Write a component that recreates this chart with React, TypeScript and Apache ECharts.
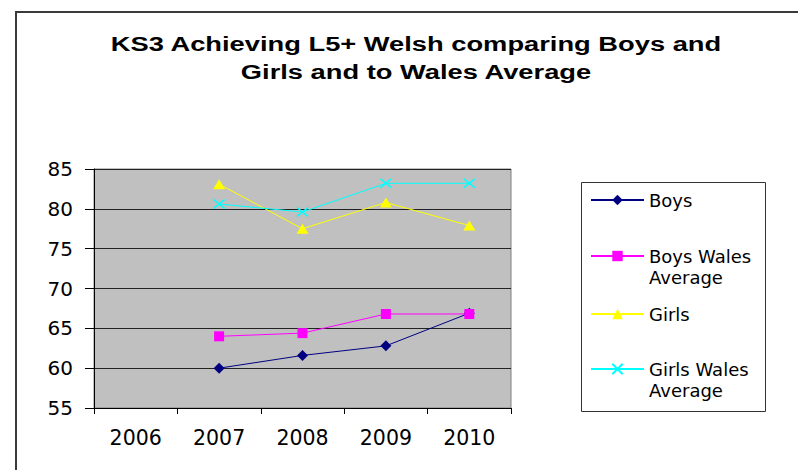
import React, { useEffect, useRef } from "react";
import * as echarts from "echarts";

// KS3 Welsh L5+ attainment, by year
const years = ["2006", "2007", "2008", "2009", "2010"];
const boys = [null, 60.0, 61.6, 62.8, 66.9];
const boysWales = [null, 64.0, 64.4, 66.8, 66.8];
const girls = [null, 83.1, 77.5, 80.8, 77.9];
const girlsWales = [null, 80.6, 79.6, 83.2, 83.2];

const titleLines = ["KS3 Achieving L5+ Welsh comparing Boys and", "Girls and to Wales Average"];
const seriesNames = ["Boys", "Boys Wales Average", "Girls", "Girls Wales Average"];
const legendLabels = ["Boys", "Boys Wales\nAverage", "Girls", "Girls Wales\nAverage"];

const FONT = "DejaVu Sans";
const CROSS = "path://M0,0L10,10M10,0L0,10";

export default function App() {
  const ref = useRef<HTMLDivElement>(null);

  useEffect(() => {
    document.body.style.margin = "0";
    if (!ref.current) return;
    const chart = echarts.init(ref.current, null, { renderer: "svg" });

    // one legend per entry so each marker sits level with the first text line
    const legendTops = [189.5, 224.5, 303.5, 337.5];
    const legends = seriesNames.map((name, i) => {
      const twoLine = legendLabels[i].includes("\n");
      const label = twoLine ? "\n" + legendLabels[i] : legendLabels[i];
      return {
        show: true,
        left: 590,
        top: legendTops[i],
        orient: "vertical",
        padding: 0,
        itemWidth: 53,
        itemHeight: 13,
        selectedMode: false,
        data: [name],
        formatter: () => label,
        textStyle: {
          fontFamily: FONT,
          fontSize: 18,
          lineHeight: 21,
          color: "#000",
        },
      };
    });

    chart.setOption({
      animation: false,
      backgroundColor: "#fff",
      graphic: [
        {
          type: "rect",
          shape: { x: 16, y: 12, width: 900, height: 600 },
          style: { fill: "none", stroke: "#3a3a3a", lineWidth: 2 },
          silent: true,
        },
        {
          type: "rect",
          shape: { x: 581.5, y: 182.5, width: 184, height: 229 },
          style: { fill: "#fff", stroke: "#333", lineWidth: 1 },
          silent: true,
          z: -1,
        },
        {
          type: "group",
          x: 416,
          y: 0,
          scaleX: 1.3,
          children: titleLines.map((t, i) => ({
            type: "text",
            x: 0,
            y: 44 + i * 28,
            style: {
              text: t,
              font: 'bold 21px "Liberation Sans", Arial, sans-serif',
              fill: "#000",
              textAlign: "center",
              textVerticalAlign: "middle",
            },
          })),
        },
      ],
      legend: legends,
      grid: {
        left: 94,
        right: 287,
        top: 169,
        bottom: 62,
        show: true,
        backgroundColor: "#C0C0C0",
        borderColor: "#808080",
        borderWidth: 1,
      },
      xAxis: {
        type: "category",
        data: years,
        boundaryGap: true,
        axisLine: { show: true, lineStyle: { color: "#000", width: 1 } },
        axisTick: { show: true, length: 6, lineStyle: { color: "#000" } },
        axisLabel: { fontFamily: FONT, fontSize: 20.5, color: "#000", margin: 19 },
        splitLine: { show: false },
      },
      yAxis: {
        type: "value",
        min: 55,
        max: 85,
        interval: 5,
        axisLine: { show: true, lineStyle: { color: "#000", width: 1 } },
        axisTick: { show: true, length: 9, lineStyle: { color: "#000" } },
        axisLabel: { fontFamily: FONT, fontSize: 20, color: "#000", margin: 21 },
        splitLine: { show: true, lineStyle: { color: "#222", width: 1 } },
      },
      series: [
        {
          name: seriesNames[0],
          type: "line",
          data: boys,
          symbol: "diamond",
          symbolSize: 11,
          lineStyle: { color: "#000080", width: 1 },
          itemStyle: { color: "#000080" },
        },
        {
          name: seriesNames[1],
          type: "line",
          data: boysWales,
          symbol: "rect",
          symbolSize: 10,
          lineStyle: { color: "#FF00FF", width: 1 },
          itemStyle: { color: "#FF00FF" },
        },
        {
          name: seriesNames[2],
          type: "line",
          data: girls,
          symbol: "triangle",
          symbolSize: [12, 10],
          lineStyle: { color: "#FFFF00", width: 1 },
          itemStyle: { color: "#FFFF00" },
        },
        {
          name: seriesNames[3],
          type: "line",
          data: girlsWales,
          symbol: CROSS,
          symbolSize: [11, 9],
          lineStyle: { color: "#00FFFF", width: 1 },
          itemStyle: { color: "transparent", borderColor: "#00FFFF", borderWidth: 1.5 },
        },
      ],
    });

    return () => chart.dispose();
  }, []);

  return <div ref={ref} style={{ width: 798, height: 470 }} />;
}
